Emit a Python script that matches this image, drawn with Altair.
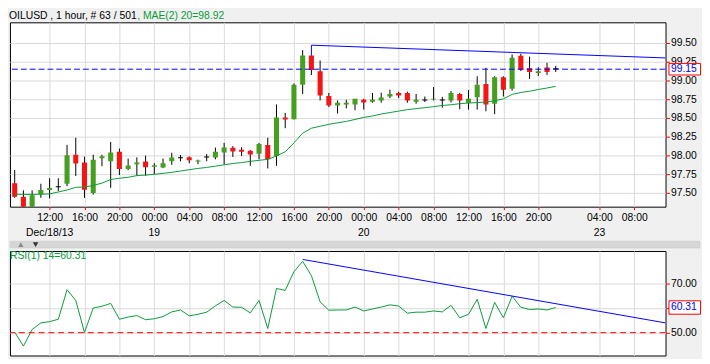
import json
import altair as alt
import pandas as pd

# ---------------- data ----------------
opens = [97.63, 97.45, 97.30, 97.483, 97.539, 97.575, 97.622, 98.01, 97.905, 97.50,
         97.961, 97.922, 98.049, 97.818, 97.883, 97.918, 97.849, 97.840, 97.922, 97.962,
         97.975, 97.918, 97.971, 97.971, 98.04, 98.101, 98.075, 98.062, 98.023, 98.14,
         97.993, 98.507, 98.484, 98.942, 99.334, 99.121, 98.794, 98.667, 98.68, 98.68,
         98.742, 98.716, 98.733, 98.785, 98.833, 98.833, 98.716, 98.733, 98.745, 98.733,
         98.733, 98.82, 98.703, 98.777, 98.951, 98.69, 99.042, 98.89, 99.33, 99.164,
         99.099, 99.173, 99.15]
highs = [97.805, 97.535, 97.535, 97.622, 97.696, 97.696, 98.141, 98.236, 97.984, 98.01,
         98.01, 98.18, 98.092, 97.958, 97.975, 97.997, 97.896, 97.958, 98.036, 98.006,
         97.988, 97.944, 98.019, 98.105, 98.167, 98.124, 98.11, 98.071, 98.167, 98.236,
         98.68, 98.568, 98.96, 99.405, 99.334, 99.265, 98.833, 98.733, 98.742, 98.755,
         98.755, 98.833, 98.837, 98.877, 98.85, 98.85, 98.82, 98.785, 98.912, 98.781,
         98.859, 98.833, 98.873, 99.056, 99.169, 99.056, 99.056, 99.347, 99.356, 99.317,
         99.177, 99.235, 99.195]
lows = [97.435, 97.28, 97.28, 97.435, 97.426, 97.526, 97.591, 97.726, 97.435, 97.478,
        97.857, 97.569, 97.739, 97.804, 97.731, 97.731, 97.752, 97.831, 97.875, 97.922,
        97.896, 97.883, 97.922, 97.948, 97.883, 97.980, 97.993, 97.862, 97.948, 97.827,
        97.862, 98.363, 98.48, 98.82, 99.073, 98.733, 98.646, 98.559, 98.628, 98.602,
        98.611, 98.703, 98.703, 98.764, 98.764, 98.703, 98.69, 98.712, 98.733, 98.637,
        98.707, 98.615, 98.611, 98.611, 98.589, 98.55, 98.785, 98.864, 99.125, 99.02,
        99.06, 99.073, 99.112]
closes = [97.45, 97.30, 97.47, 97.539, 97.565, 97.575, 98.001, 97.892, 97.543, 97.944,
          97.988, 98.04, 97.818, 97.866, 97.905, 97.844, 97.870, 97.896, 97.971, 97.962,
          97.935, 97.931, 97.971, 98.049, 98.105, 98.053, 98.049, 98.014, 98.154, 97.948,
          98.507, 98.48, 98.942, 99.334, 99.14, 98.798, 98.667, 98.703, 98.703, 98.755,
          98.707, 98.742, 98.772, 98.82, 98.798, 98.733, 98.742, 98.733, 98.755, 98.733,
          98.833, 98.733, 98.755, 98.942, 98.68, 99.042, 98.877, 99.304, 99.143, 99.112,
          99.121, 99.112, 99.15]
mae20 = [97.483, 97.480, 97.480, 97.483, 97.487, 97.513, 97.539, 97.575, 97.578, 97.601,
         97.631, 97.679, 97.696, 97.709, 97.731, 97.739, 97.748, 97.761, 97.775, 97.792,
         97.810, 97.827, 97.840, 97.857, 97.875, 97.892, 97.905, 97.921, 97.935, 97.948,
         97.993, 98.049, 98.167, 98.297, 98.363, 98.389, 98.415, 98.435, 98.454, 98.480,
         98.507, 98.526, 98.552, 98.572, 98.591, 98.611, 98.624, 98.637, 98.650, 98.666,
         98.676, 98.690, 98.699, 98.705, 98.712, 98.729, 98.755, 98.814, 98.840, 98.856,
         98.879, 98.899, 98.921]
rsi14 = [50.25, 44.5, 51.3, 54.0, 54.5, 55.5, 67.6, 63.2, 50.1, 60.1,
         60.8, 62.0, 55.5, 56.4, 57.0, 55.3, 55.7, 56.6, 58.5, 59.3,
         56.9, 57.5, 58.4, 61.0, 63.2, 60.5, 60.4, 58.1, 63.2, 51.7,
         68.1, 67.3, 75.0, 79.2, 73.4, 62.6, 59.2, 59.3, 59.3, 60.5,
         58.9, 59.7, 60.5, 61.4, 60.9, 58.0, 58.4, 58.4, 58.9, 58.5,
         61.2, 56.1, 57.5, 63.7, 51.7, 62.4, 56.1, 64.9, 60.4, 59.5,
         59.7, 59.3, 60.31]

tick_idx = [4, 8, 12, 16, 20, 24, 28, 32, 36, 40, 44, 48, 52, 56, 60, 67, 71]
tick_lbl = ["12:00", "16:00", "20:00", "00:00", "04:00", "08:00", "12:00", "16:00",
            "20:00", "00:00", "04:00", "08:00", "12:00", "16:00", "20:00", "04:00", "08:00"]
date_idx = [4, 16, 40, 67]
date_lbl = ["Dec/18/13", "19", "20", "23"]
price_ticks = [97.50, 97.75, 98.00, 98.25, 98.50, 98.75, 99.00, 99.25, 99.50]
rsi_ticks = [50, 60, 70]

last_close = 99.15
last_rsi = 60.31
rsi_level = 50
price_trend_x = [34, 34, 74.58]
price_trend_y = [99.335, 99.47, 99.30]
rsi_trend_x = [33, 74.58]
rsi_trend_y = [80.0, 54.0]

title_black = "OILUSD , 1 hour, # 63 / 501"
title_green = ", MAE(2) 20=98.92"
rsi_title = "RSI(1) 14=60.31"

# ---------------- styling ----------------
FONT = "Liberation Sans"
FS = 10.5
GREEN_C = "#45a022"
RED_C = "#f51515"
LINE_G = "#0a9a3a"
BLUE = "#0000ff"
GRID = "#d9d9d9"
W, H1, H2 = 665, 187, 106
XDOM = [-0.54, 74.58]
PDOM = [97.317, 99.775]
RDOM = [40.64, 83.44]

n = len(opens)
candles = pd.DataFrame({"i": list(range(n)), "o": opens, "h": highs, "l": lows, "c": closes})
mae_df = pd.DataFrame({"i": list(range(n)), "v": mae20})
rsi_df = pd.DataFrame({"i": list(range(n)), "v": rsi14})
dates_df = pd.DataFrame({"i": date_idx, "t": date_lbl})
ptrend = pd.DataFrame({"i": price_trend_x, "v": price_trend_y, "k": list(range(len(price_trend_x)))})
rtrend = pd.DataFrame({"i": rsi_trend_x, "v": rsi_trend_y, "k": list(range(len(rsi_trend_x)))})
last_p = pd.DataFrame({"v": [last_close], "t": [f"{last_close:.2f}"]})
last_r = pd.DataFrame({"v": [last_rsi], "t": [f"{last_rsi:.2f}"]})
lvl_r = pd.DataFrame({"v": [rsi_level]})
one = pd.DataFrame({"a": [0]})

label_expr = f"{json.dumps(tick_lbl)}[indexof({json.dumps(tick_idx)}, datum.value)]"

xscale = alt.Scale(domain=XDOM, nice=False, zero=False)
pscale = alt.Scale(domain=PDOM, nice=False, zero=False)
rscale = alt.Scale(domain=RDOM, nice=False, zero=False)

x_axis_main = alt.Axis(values=tick_idx, labelExpr=label_expr, grid=True, gridColor=GRID,
                       gridWidth=1, domain=False, tickColor="red", tickSize=3,
                       labelPadding=3, labelFont=FONT, labelFontSize=FS, labelColor="black",
                       labelAngle=0, labelFlush=False, labelOverlap=False, title=None,
                       zindex=0)
x_axis_rsi = alt.Axis(values=tick_idx, grid=True, gridColor=GRID, gridWidth=1, domain=False,
                      ticks=False, labels=False, title=None, zindex=0)
y_axis_main = alt.Axis(orient="right", values=price_ticks, format=".2f", grid=True,
                       gridColor=GRID, gridWidth=1, domain=False, tickColor="red", tickSize=4,
                       labelPadding=1, labelFont=FONT, labelFontSize=FS, labelColor="black",
                       title=None, labelFlush=False, labelOverlap=False, tickCount=9,
                       zindex=0)
y_axis_rsi = alt.Axis(orient="right", values=rsi_ticks, format=".2f", grid=True,
                      gridColor=GRID, gridWidth=1, domain=False, tickColor="red", tickSize=4,
                      labelPadding=1, labelFont=FONT, labelFontSize=FS, labelColor="black",
                      title=None, labelFlush=False, labelOverlap=False, zindex=0)


def XM(field):
    return alt.X(field, scale=xscale, axis=x_axis_main)


def XR(field):
    return alt.X(field, scale=xscale, axis=x_axis_rsi)


def YP(field):
    return alt.Y(field, scale=pscale, axis=y_axis_main)


def YR(field):
    return alt.Y(field, scale=rscale, axis=y_axis_rsi)


# ---------------- main (price) panel ----------------
base_c = alt.Chart(candles)
wicks = base_c.mark_rule(color="black", strokeWidth=1, clip=True).encode(
    x=XM("i:Q"), y=YP("l:Q"), y2="h:Q")
bodies = base_c.transform_calculate(
    x0="datum.i - 0.29",
    x1="datum.i + 0.29",
    c2="datum.c == datum.o ? datum.o + 0.014 : datum.c",
    dir="datum.c > datum.o ? 'up' : (datum.c < datum.o ? 'down' : 'doji')",
).mark_rect(clip=True).encode(
    x=XM("x0:Q"),
    x2="x1:Q",
    y=YP("o:Q"),
    y2="c2:Q",
    color=alt.Color("dir:N", scale=alt.Scale(domain=["up", "down", "doji"],
                                             range=[GREEN_C, RED_C, "black"]), legend=None),
)
mae_line = alt.Chart(mae_df).mark_line(color=LINE_G, strokeWidth=1, clip=True).encode(
    x=XM("i:Q"), y=YP("v:Q"))
last_rule = alt.Chart(last_p).mark_rule(color=BLUE, strokeWidth=1, strokeDash=[6, 3]).encode(
    y=YP("v:Q"))
p_trend = alt.Chart(ptrend).mark_line(color=BLUE, strokeWidth=1, clip=True).encode(
    x=XM("i:Q"), y=YP("v:Q"), order="k:Q")
p_box = alt.Chart(last_p).transform_calculate(
    top="datum.v + 0.077", bot="datum.v - 0.077"
).mark_rect(fill="white", stroke="red", strokeWidth=1, opacity=1).encode(
    x=alt.value(668.5), x2=alt.value(700.5),
    y=YP("top:Q"), y2="bot:Q")
p_box_txt = alt.Chart(last_p).mark_text(color=BLUE, align="left", baseline="middle",
                                        font=FONT, fontSize=FS).encode(
    x=alt.value(670.5), y=YP("v:Q"), text="t:N")
date_txt = alt.Chart(dates_df).mark_text(color="black", align="center", baseline="alphabetic",
                                         font=FONT, fontSize=FS).encode(
    x=XM("i:Q"), y=alt.value(H1 + 29.5), text="t:N")
title1 = alt.Chart(one).mark_text(color="black", align="left", baseline="alphabetic",
                                  font=FONT, fontSize=FS).encode(
    x=alt.value(-1), y=alt.value(-3), text=alt.value(title_black))
title2 = alt.Chart(one).mark_text(color=LINE_G, align="left", baseline="alphabetic",
                                  font=FONT, fontSize=FS).encode(
    x=alt.value(129), y=alt.value(-3), text=alt.value(title_green))

main = alt.layer(wicks, bodies, mae_line, last_rule, p_trend, p_box, p_box_txt,
                 date_txt, title1, title2).properties(width=W, height=H1)

# ---------------- RSI panel ----------------
rsi_line = alt.Chart(rsi_df).mark_line(color=LINE_G, strokeWidth=1, clip=True).encode(
    x=XR("i:Q"), y=YR("v:Q"))
lvl_rule = alt.Chart(lvl_r).mark_rule(color="red", strokeWidth=1, strokeDash=[6, 4]).encode(
    y=YR("v:Q"))
r_trend = alt.Chart(rtrend).mark_line(color=BLUE, strokeWidth=1, clip=True).encode(
    x=XR("i:Q"), y=YR("v:Q"), order="k:Q")
r_box = alt.Chart(last_r).transform_calculate(
    top="datum.v + 2.75", bot="datum.v - 2.75"
).mark_rect(fill="white", stroke="red", strokeWidth=1, opacity=1).encode(
    x=alt.value(668.5), x2=alt.value(700.5),
    y=YR("top:Q"), y2="bot:Q")
r_box_txt = alt.Chart(last_r).mark_text(color=BLUE, align="left", baseline="middle",
                                        font=FONT, fontSize=FS).encode(
    x=alt.value(670.5), y=YR("v:Q"), text="t:N")
r_title = alt.Chart(one).mark_text(color=LINE_G, align="left", baseline="alphabetic",
                                   font=FONT, fontSize=FS).encode(
    x=alt.value(0), y=alt.value(8.5), text=alt.value(rsi_title))
sep = alt.Chart(one).mark_rect(fill="#d6d6d6", stroke="#c8c8c8", strokeWidth=0.5).encode(
    x=alt.value(0), x2=alt.value(700), y=alt.value(-10), y2=alt.value(-3))
tri_up = alt.Chart(one).mark_point(shape="triangle-up", filled=True, color="#8a8a8a",
                                   size=30, opacity=1).encode(x=alt.value(11), y=alt.value(-6.5))
tri_dn = alt.Chart(one).mark_point(shape="triangle-down", filled=True, color="#333333",
                                   size=30, opacity=1).encode(x=alt.value(26), y=alt.value(-6.5))

rsi_panel = alt.layer(rsi_line, lvl_rule, r_trend, r_box, r_box_txt, r_title,
                      sep, tri_up, tri_dn).properties(width=W, height=H2)

chart = alt.vconcat(main, rsi_panel, spacing=45, bounds="flush").properties(
    padding={"left": 0, "top": 0, "right": 0, "bottom": 0}
).configure(background="#f0f0f0").configure_view(fill="white", stroke="black", strokeWidth=1)

chart.save("out.html", embed_options={"renderer": "svg", "actions": False})
